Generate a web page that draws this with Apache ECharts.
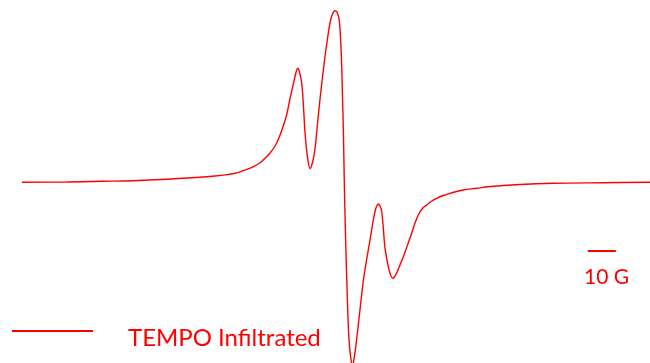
<!DOCTYPE html>
<html>
<head>
<meta charset="utf-8">
<script src="https://cdn.jsdelivr.net/npm/echarts@6/dist/echarts.min.js"></script>
<style>
  html, body { margin: 0; padding: 0; background: #ffffff; }
  #chart { width: 650px; height: 363px; }
</style>
</head>
<body>
<div id="chart"></div>
<script>
// EPR first-derivative spectrum of TEMPO (magnetic field in gauss, signal in a.u.)
const seriesName = 'TEMPO Infiltrated';

const fieldG = [
  3400.0, 3416.1, 3427.9, 3439.6, 3451.8, 3463.6, 3468.9, 3473.2, 3476.1, 3477.9,
  3479.6, 3481.4, 3482.9, 3484.3, 3485.7, 3487.1, 3488.6, 3490.4, 3491.9, 3493.3,
  3494.6, 3495.7, 3496.9, 3497.9, 3498.5, 3499.1, 3499.9, 3500.5, 3501.1, 3502.0,
  3502.9, 3503.8, 3504.6, 3505.5, 3506.4, 3507.3, 3508.2, 3509.1, 3510.0, 3510.9,
  3511.8, 3512.5, 3513.3, 3513.8, 3514.2, 3514.5, 3514.8, 3515.1, 3515.5, 3516.0,
  3516.4, 3516.8, 3517.3, 3518.0, 3518.8, 3519.5, 3520.7, 3521.9, 3523.0, 3524.3,
  3525.4, 3526.3, 3526.8, 3527.2, 3527.9, 3528.5, 3529.1, 3529.6, 3530.5, 3531.4,
  3532.4, 3533.0, 3533.8, 3535.0, 3536.2, 3537.7, 3539.2, 3540.5, 3541.8, 3543.2,
  3544.5, 3546.1, 3548.1, 3550.4, 3552.9, 3557.5, 3562.5, 3566.4, 3577.9, 3589.6,
  3607.5, 3624.3
];

const signal = [
  -0.3, 0, 0.7, 1.3, 2.7, 4.7, 6, 7.4, 8.8, 10.1,
  11.8, 13.8, 15.7, 18, 20.8, 24.5, 29, 36, 45, 56,
  68, 83, 98, 110, 113.7, 110, 99, 77, 49, 24,
  13.5, 20, 32, 57, 82, 104, 125, 143, 159, 168,
  171.3, 170, 162, 142, 115, 82, 49, 2, -48, -98,
  -133, -158, -173, -184, -173, -158, -128, -99, -79, -58,
  -39, -27, -23.5, -22, -24, -30, -48, -64.7, -80, -91,
  -96.3, -95, -91, -83, -74.7, -63, -51, -40, -31.5, -26,
  -23, -19.5, -16.3, -13.5, -11.3, -8, -6.3, -4.7, -2.5, -1.3,
  -0.7, -0.3
];

// 10 G scale bar: start field, length and vertical level
const scaleBarStart = 3602.1;
const scaleBarLength = 10;
const scaleBarLevel = -69;
const scaleBarLabel = '10 G';

const red = '#ff0000';
const fontFamily = 'Lato, "Open Sans", sans-serif';

const chart = echarts.init(document.getElementById('chart'), null, { renderer: 'canvas' });

chart.setOption({
  animation: false,
  backgroundColor: '#ffffff',
  grid: { left: 22, top: 0, width: 628, height: 363, containLabel: false },
  xAxis: {
    type: 'value', min: 3400, max: 3624.3,
    show: false
  },
  yAxis: {
    type: 'value', min: -181, max: 182,
    show: false
  },
  legend: {
    data: [seriesName],
    left: 12,
    top: 326,
    padding: 0,
    // short bar sitting above the text's middle line
    icon: 'path://M0,0H81V2H0Z M0,16H81',
    itemWidth: 81,
    itemHeight: 16,
    textStyle: {
      color: red,
      fontFamily: fontFamily,
      fontSize: 24,
      padding: [0, 0, 0, 30]
    }
  },
  graphic: [{
    type: 'text',
    left: 584,
    top: 267,
    silent: true,
    style: {
      text: scaleBarLabel,
      fill: red,
      font: '21px ' + fontFamily
    }
  }],
  series: [
    {
      name: seriesName,
      type: 'line',
      data: fieldG.map((b, i) => [b, signal[i]]),
      showSymbol: false,
      symbol: 'none',
      smooth: 0.35,
      clip: true,
      lineStyle: { color: red, width: 1.4 },
      itemStyle: { color: red }
    },
    {
      name: 'scale',
      type: 'line',
      data: [[scaleBarStart, scaleBarLevel], [scaleBarStart + scaleBarLength, scaleBarLevel]],
      symbol: 'none',
      silent: true,
      lineStyle: { color: red, width: 2 },
      itemStyle: { color: red }
    }
  ]
});
</script>
</body>
</html>
